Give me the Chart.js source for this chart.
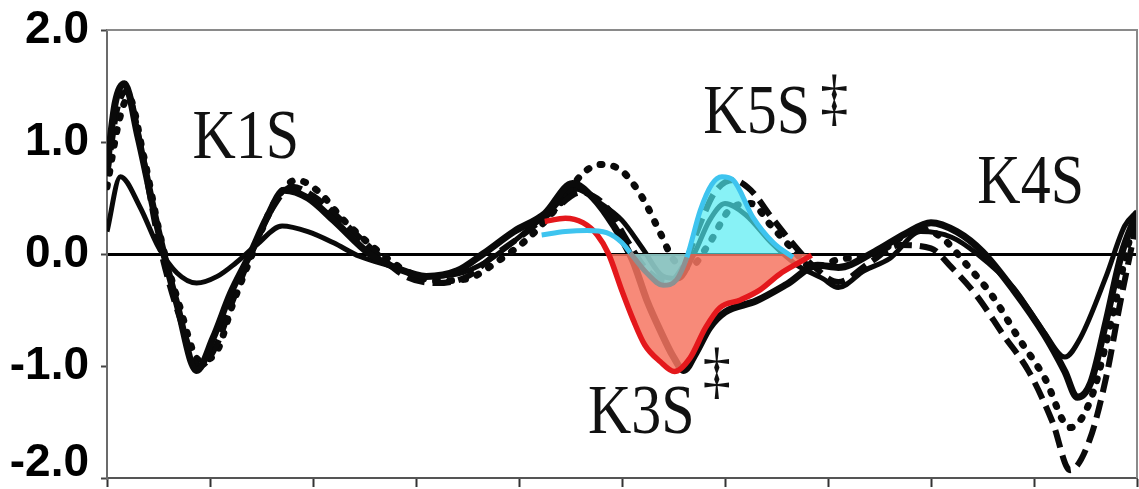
<!DOCTYPE html>
<html>
<head>
    <title>Kringle difference profiles</title>
    <script src="https://cdn.jsdelivr.net/npm/chart.js"></script>
    <style>
        body { margin: 0; background: #fff; }
        #wrap { width: 1139px; height: 489px; }
    </style>
</head>
<body>
<div id="wrap"><canvas id="profileChart"></canvas></div>
<script>
// black traces
const solidX = [0, 0.08, 0.17, 0.3, 0.5, 0.68, 0.87, 1.03, 1.2, 1.39, 1.55, 1.72, 1.95, 2.2, 2.55, 2.85, 3.1, 3.4, 3.65, 3.95, 4.25, 4.52, 4.72, 4.92, 5.1, 5.24, 5.37, 5.5, 5.6, 5.72, 5.85, 6.0, 6.3, 6.6, 6.9, 7.1, 7.45, 7.75, 8.0, 8.25, 8.5, 8.8, 9.1, 9.3, 9.42, 9.55, 9.7, 9.85, 10];
const solidY = [0.78, 1.35, 1.52, 1.05, 0.2, -0.45, -1.04, -0.75, -0.35, 0.0, 0.32, 0.57, 0.5, 0.3, 0.0, -0.14, -0.2, -0.15, 0.0, 0.2, 0.36, 0.63, 0.5, 0.25, -0.05, -0.41, -0.68, -0.92, -1.04, -0.88, -0.66, -0.52, -0.42, -0.27, -0.1, -0.12, 0.02, 0.18, 0.28, 0.2, 0.02, -0.32, -0.72, -1.05, -1.28, -1.15, -0.6, 0.0, 0.37];

const dashX = [0, 0.1, 0.19, 0.33, 0.5, 0.7, 0.9, 1.06, 1.22, 1.4, 1.6, 1.8, 2.0, 2.3, 2.6, 2.9, 3.2, 3.5, 3.75, 4.05, 4.35, 4.6, 4.85, 5.05, 5.25, 5.45, 5.6, 5.75, 5.9, 6.08, 6.25, 6.45, 6.65, 6.85, 7.1, 7.4, 7.7, 8.0, 8.2, 8.45, 8.7, 8.95, 9.18, 9.35, 9.54, 9.71, 9.83, 9.96, 10];
const dashY = [0.7, 1.3, 1.45, 0.95, 0.12, -0.55, -1.0, -0.82, -0.42, 0.0, 0.4, 0.6, 0.52, 0.28, 0.02, -0.2, -0.26, -0.2, -0.02, 0.18, 0.4, 0.55, 0.42, 0.12, -0.15, -0.25, -0.1, 0.25, 0.55, 0.66, 0.57, 0.33, 0.1, -0.1, -0.25, -0.08, 0.08, 0.05, -0.12, -0.38, -0.72, -1.05, -1.5, -1.93, -1.66, -1.06, -0.47, 0.12, 0.3];

const dotX = [0, 0.12, 0.21, 0.35, 0.52, 0.7, 0.9, 1.06, 1.22, 1.42, 1.62, 1.84, 2.05, 2.3, 2.6, 2.9, 3.2, 3.5, 3.8, 4.1, 4.4, 4.62, 4.8, 5.0, 5.2, 5.37, 5.5, 5.65, 5.85, 6.05, 6.25, 6.45, 6.65, 6.85, 7.1, 7.45, 7.9, 8.1, 8.35, 8.6, 8.85, 9.1, 9.35, 9.55, 9.75, 9.92, 10];
const dotY = [0.6, 1.2, 1.4, 0.9, 0.15, -0.45, -0.95, -0.88, -0.45, 0.02, 0.45, 0.66, 0.56, 0.3, 0.05, -0.15, -0.24, -0.22, -0.06, 0.15, 0.45, 0.72, 0.8, 0.74, 0.5, 0.19, -0.05, -0.12, 0.1, 0.4, 0.45, 0.25, 0.05, -0.12, -0.05, 0.0, 0.22, 0.15, -0.1, -0.38, -0.75, -1.1, -1.55, -1.3, -0.6, 0.1, 0.35];

const thinX = [0, 0.13, 0.32, 0.5, 0.68, 0.87, 1.07, 1.25, 1.45, 1.7, 1.95, 2.2, 2.45, 2.8, 3.1, 3.4, 3.7, 4.0, 4.3, 4.55, 4.78, 5.0, 5.2, 5.4, 5.55, 5.7, 5.85, 6.0, 6.2, 6.45, 6.7, 6.95, 7.1, 7.35, 7.6, 7.9, 8.2, 8.45, 8.8, 9.1, 9.3, 9.45, 9.7, 9.88, 10];
const thinY = [0.2, 0.69, 0.42, 0.06, -0.17, -0.26, -0.2, -0.08, 0.08, 0.25, 0.2, 0.1, -0.02, -0.12, -0.2, -0.18, -0.06, 0.15, 0.38, 0.58, 0.46, 0.3, 0.05, -0.2, -0.22, 0.0, 0.3, 0.45, 0.35, 0.1, -0.1, -0.22, -0.3, -0.15, -0.04, 0.2, 0.15, 0.0, -0.3, -0.7, -0.92, -0.75, -0.2, 0.25, 0.38];

// highlighted traces
const k3sX = [4.25, 4.45, 4.62, 4.76, 4.87, 5.0, 5.11, 5.22, 5.37, 5.51, 5.66, 5.81, 5.95, 6.15, 6.34, 6.53, 6.73, 6.84];
const k3sY = [0.29, 0.32, 0.28, 0.17, 0.0, -0.33, -0.59, -0.81, -0.96, -1.05, -0.93, -0.66, -0.48, -0.41, -0.32, -0.18, -0.07, -0.01];

const k5sX = [4.22, 4.45, 4.66, 4.85, 5.0, 5.08, 5.24, 5.4, 5.53, 5.63, 5.76, 5.87, 5.97, 6.08, 6.27, 6.47, 6.66];
const k5sY = [0.17, 0.2, 0.21, 0.19, 0.1, 0.01, -0.17, -0.28, -0.23, -0.03, 0.39, 0.62, 0.69, 0.66, 0.33, 0.10, -0.03];
const k5sFillFrom = 5.08;   // shading starts where the trace crosses zero

const yTicks = [-2, -1, 0, 1, 2];

// text labels, in data units
const notes = [
    { text: 'K1S', x: 0.83, y: 0.86 },
    { text: 'K5S', x: 5.79, y: 1.08 },
    { text: 'K4S', x: 8.45, y: 0.455 },
    { text: 'K3S', x: 4.67, y: -1.6 }
];
const daggers = [
    { x: 7.06, y: 1.36 },
    { x: 5.92, y: -1.08 }
];

const pts = (xs, ys) => xs.map((x, i) => ({ x: x, y: ys[i] }));

const blackLine = (xs, ys, width, dash, cap) => ({
    data: pts(xs, ys),
    borderColor: '#0a0a0a',
    borderWidth: width,
    borderDash: dash,
    borderCapStyle: cap || 'butt',
    pointRadius: 0,
    fill: false,
    cubicInterpolationMode: 'monotone'
});

const greyBelow = c => (c.p0.parsed.y < 0.02 && c.p1.parsed.y < 0.02 && c.p0.parsed.x > 5) ? '#8c9192' : undefined;

const notePlugin = {
    id: 'notes',
    afterDraw(chart) {
        const { ctx, chartArea: a, scales } = chart;
        ctx.save();
        ctx.strokeStyle = '#8a8a8a';
        ctx.lineWidth = 2;
        ctx.beginPath();
        ctx.moveTo(a.left, a.top);
        ctx.lineTo(a.right, a.top);
        ctx.lineTo(a.right, a.bottom);
        ctx.stroke();

        ctx.fillStyle = '#111';
        ctx.textAlign = 'left';
        ctx.textBaseline = 'alphabetic';
        ctx.font = '60px "Liberation Serif", "Times New Roman", serif';
        notes.forEach(n => {
            ctx.save();
            ctx.translate(scales.x.getPixelForValue(n.x), scales.y.getPixelForValue(n.y));
            ctx.scale(1, 1.15);
            ctx.fillText(n.text, 0, 0);
            ctx.restore();
        });
        ctx.font = '56px "Liberation Serif", "Times New Roman", serif';
        ctx.textAlign = 'center';
        daggers.forEach(d => {
            ctx.save();
            ctx.translate(scales.x.getPixelForValue(d.x), scales.y.getPixelForValue(d.y) + 17);
            ctx.scale(1, 1.15);
            ctx.fillText('\u2021', 0, 0);
            ctx.restore();
        });
        ctx.restore();
    }
};

new Chart(document.getElementById('profileChart'), {
    type: 'line',
    data: {
        datasets: [
            {
                data: pts(k5sX, k5sY),
                borderColor: '#3ec4ef',
                borderWidth: 5,
                pointRadius: 0,
                cubicInterpolationMode: 'monotone',
                segment: { borderColor: greyBelow },
                fill: false
            },
            {
                data: pts(k5sX, k5sY).filter(p => p.x >= k5sFillFrom),
                borderColor: 'rgba(0,0,0,0)',
                borderWidth: 0,
                pointRadius: 0,
                cubicInterpolationMode: 'monotone',
                fill: { target: 'origin', above: 'rgba(80,236,242,0.68)', below: 'rgba(80,236,242,0.62)' }
            },
            {
                data: pts(k3sX, k3sY),
                borderColor: '#e4181c',
                borderWidth: 5.5,
                pointRadius: 0,
                cubicInterpolationMode: 'monotone',
                fill: { target: 'origin', above: 'rgba(0,0,0,0)', below: 'rgba(246,118,98,0.85)' }
            },
            blackLine(solidX, solidY, 7),
            blackLine(dashX, dashY, 6, [18, 8]),
            blackLine(dotX, dotY, 7, [2, 12], 'round'),
            blackLine(thinX, thinY, 5)
        ]
    },
    options: {
        responsive: true,
        maintainAspectRatio: false,
        animation: false,
        layout: { padding: { top: 30, right: 2, left: 0, bottom: 0 } },
        plugins: { legend: { display: false }, tooltip: { enabled: false } },
        scales: {
            x: {
                type: 'linear',
                min: 0,
                max: 10,
                afterFit: s => { s.height = 11; s.paddingLeft = 0; s.paddingRight = 0; },
                border: { color: '#555', width: 2 },
                grid: { drawOnChartArea: false, tickColor: '#333', tickWidth: 2, tickLength: 9 },
                ticks: { display: false, stepSize: 1 }
            },
            y: {
                min: -2,
                max: 2,
                afterFit: s => { s.width = 107; s.paddingTop = 0; s.paddingBottom = 0; },
                afterBuildTicks: s => { s.ticks = yTicks.map(v => ({ value: v })); },
                border: { color: '#6b6b6b', width: 2 },
                grid: {
                    color: c => c.tick && c.tick.value === 0 ? '#000' : 'rgba(0,0,0,0)',
                    lineWidth: 3,
                    tickColor: '#444',
                    tickWidth: 2,
                    tickLength: 6
                },
                ticks: {
                    padding: 12,
                    color: '#000',
                    font: { family: '"Liberation Sans", Arial, sans-serif', size: 46, weight: 'bold', lineHeight: '30px' },
                    callback: v => v === -2 ? ['-2.0', ''] : v.toFixed(1)
                }
            }
        }
    },
    plugins: [notePlugin]
});
</script>
</body>
</html>
